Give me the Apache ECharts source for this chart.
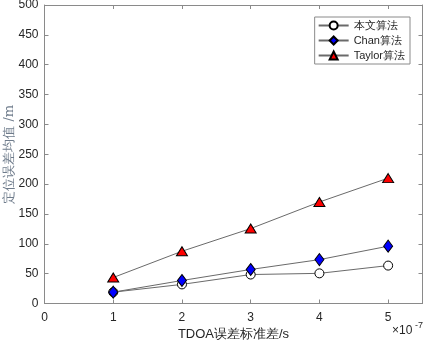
<!DOCTYPE html>
<html>
<head>
<meta charset="utf-8">
<script src="https://cdn.jsdelivr.net/npm/echarts@6/dist/echarts.min.js"></script>
<style>
  html, body { margin: 0; padding: 0; background: #fff; }
  #chart { width: 425px; height: 341px; }
</style>
</head>
<body>
<div id="chart"></div>
<script>
// TDOA error std (x 1e-7 s)
const sigma = [1, 2, 3, 4, 5]
const ours = [19, 32, 48.5, 50.5, 63.5]
const chan = [19, 38.5, 57, 73.5, 96]
const taylor = [43.5, 87.5, 125.5, 170, 210]
const seriesNames = ['本文算法', 'Chan算法', 'Taylor算法']

const axisGray = '#8a8a8a'
const textDark = '#262626'
const font = 'Liberation Sans, Arial, sans-serif'

const toPoints = vals => sigma.map((x, i) => [x, vals[i]])

const baseSeries = {
  type: 'line',
  lineStyle: { color: '#6a6a6a', width: 1 },
  emphasis: { disabled: true },
  animation: false
}

const boxAxis = {
  type: 'value',
  axisLine: { show: true, onZero: false, lineStyle: { color: axisGray } },
  axisTick: { show: true, inside: true, length: 4, lineStyle: { color: axisGray } },
  axisLabel: { show: false },
  splitLine: { show: false }
}

const chart = echarts.init(document.getElementById('chart'))
chart.setOption({
  backgroundColor: '#fff',
  grid: { left: 44.5, right: 2.5, top: 5, bottom: 37.5, containLabel: false, outerBoundsMode: 'none' },
  legend: {
    right: 15,
    top: 17,
    orient: 'vertical',
    itemWidth: 30,
    itemHeight: 10,
    itemGap: 4,
    padding: [3, 5, 3, 3],
    borderColor: '#8a8a8a',
    borderWidth: 1,
    backgroundColor: '#fff',
    textStyle: { fontSize: 11, color: textDark, fontFamily: font },
    data: seriesNames
  },
  xAxis: [{
    type: 'value',
    min: 0,
    max: 5.5,
    interval: 1,
    axisLine: { onZero: false, lineStyle: { color: axisGray } },
    axisTick: { inside: true, length: 4, lineStyle: { color: axisGray } },
    splitLine: { show: false },
    axisLabel: { color: textDark, fontSize: 12, fontFamily: font, margin: 8, showMaxLabel: false },
    name: 'TDOA误差标准差/s',
    nameLocation: 'middle',
    nameGap: 23,
    nameTextStyle: { color: textDark, fontSize: 13, fontFamily: font }
  }, Object.assign({}, boxAxis, { position: 'top', min: 0, max: 5.5, interval: 1 })],
  yAxis: [{
    type: 'value',
    min: 0,
    max: 500,
    interval: 50,
    axisLine: { show: true, lineStyle: { color: axisGray } },
    axisTick: { show: true, inside: true, length: 4, lineStyle: { color: axisGray } },
    splitLine: { show: false },
    axisLabel: { color: textDark, fontSize: 12, fontFamily: font, margin: 6 },
    name: '定位误差均值 /m',
    nameLocation: 'middle',
    nameGap: 28,
    nameMoveOverlap: false,
    nameTextStyle: { color: '#6f7c8c', fontSize: 13, fontFamily: 'DejaVu Serif, serif' }
  }, Object.assign({}, boxAxis, { position: 'right', min: 0, max: 500, interval: 50 })],
  graphic: [{
    type: 'text',
    left: 392,
    top: 325,
    style: { text: '×10', fill: textDark, font: '12px ' + font }
  }, {
    type: 'text',
    left: 415,
    top: 321,
    style: { text: '-7', fill: textDark, font: '9px ' + font }
  }],
  series: [
    Object.assign({}, baseSeries, {
      name: seriesNames[0],
      data: toPoints(ours),
      symbol: 'circle',
      symbolSize: 9,
      z: 3,
      itemStyle: { color: '#fff', borderColor: '#000', borderWidth: 1 }
    }),
    Object.assign({}, baseSeries, {
      name: seriesNames[1],
      data: toPoints(chan),
      symbol: 'diamond',
      symbolSize: [9, 12],
      z: 4,
      itemStyle: { color: '#0000ff', borderColor: '#000', borderWidth: 1 }
    }),
    Object.assign({}, baseSeries, {
      name: seriesNames[2],
      data: toPoints(taylor),
      symbol: 'triangle',
      symbolSize: [11, 9],
      z: 5,
      itemStyle: { color: '#ff0000', borderColor: '#000', borderWidth: 1 }
    })
  ]
})
</script>
</body>
</html>
